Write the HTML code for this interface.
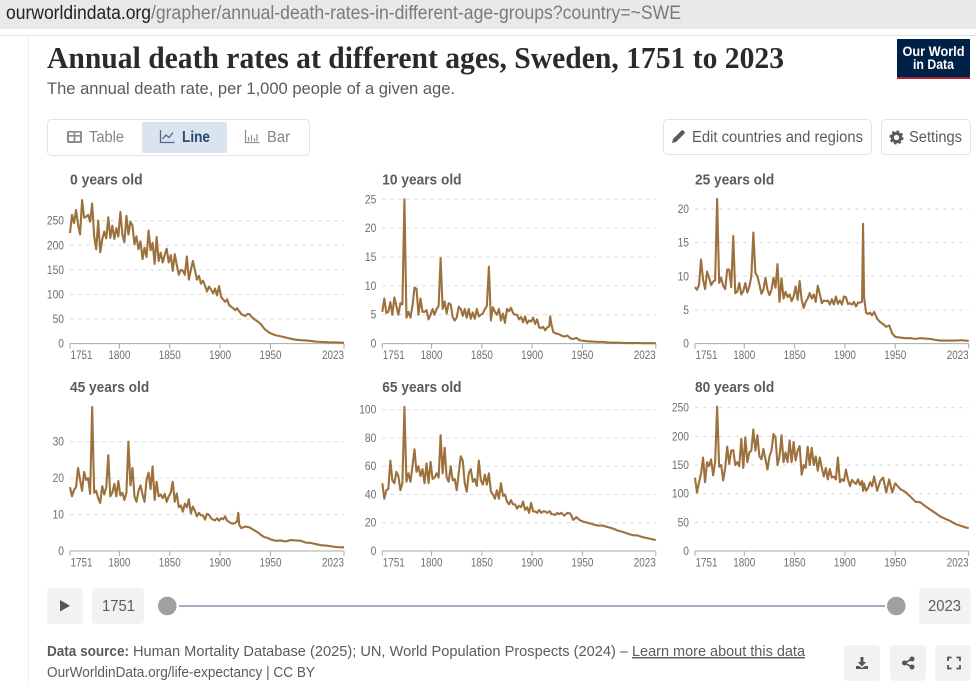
<!DOCTYPE html>
<html lang="en">
<head>
<meta charset="utf-8">
<title>Annual death rates at different ages, Sweden, 1751 to 2023</title>
<style>
html,body{margin:0;padding:0;background:#fff;width:976px;height:685px;overflow:hidden}
svg{display:block}
text{font-family:"Liberation Sans",sans-serif}
.serif{font-family:"Liberation Serif",serif;font-weight:700}
.tick{font-size:12px;fill:#6e6e6e}
.ptitle{font-size:14.5px;font-weight:700;fill:#5b5b5b}
.ui{font-size:15.5px;fill:#5b5b5b}
.foot{font-size:14.5px;fill:#5b5b5b}
</style>
</head>
<body>
<svg id="page" xmlns="http://www.w3.org/2000/svg" width="976" height="685" viewBox="0 0 976 685">
  <rect width="976" height="685" fill="#fff"/>
  <rect width="976" height="29" fill="#e9e9ec"/>
  <line x1="0" y1="35.5" x2="976" y2="35.5" stroke="#e2e2e2"/>
  <line x1="28.5" y1="36" x2="28.5" y2="685" stroke="#f0f0f0"/>
  <text x="6" y="19" font-size="19" fill="#222" textLength="145" lengthAdjust="spacingAndGlyphs">ourworldindata.org</text>
  <text x="151" y="19" font-size="19" fill="#7b7b7b" textLength="530" lengthAdjust="spacingAndGlyphs">/grapher/annual-death-rates-in-different-age-groups?country=~SWE</text>

  <text class="serif" x="47" y="68" font-size="31" fill="#2b2b2b" textLength="737" lengthAdjust="spacingAndGlyphs">Annual death rates at different ages, Sweden, 1751 to 2023</text>
  <text x="47" y="94" font-size="16.5" fill="#5b5b5b" textLength="408" lengthAdjust="spacingAndGlyphs">The annual death rate, per 1,000 people of a given age.</text>

  <g>
    <rect x="897" y="39" width="73" height="40" fill="#002147"/>
    <rect x="897" y="77" width="73" height="2" fill="#b5202c"/>
    <text x="933.5" y="56" text-anchor="middle" font-size="13.5" font-weight="700" fill="#fff" textLength="62" lengthAdjust="spacingAndGlyphs">Our World</text>
    <text x="933.5" y="69" text-anchor="middle" font-size="13.5" font-weight="700" fill="#fff" textLength="41" lengthAdjust="spacingAndGlyphs">in Data</text>
  </g>

  <g>
    <rect x="47.5" y="119.5" width="262" height="36" rx="4" fill="#fff" stroke="#e4e4e4"/>
    <g>
      <rect x="67" y="131" width="15" height="12" rx="1.5" fill="#8d8d8d"/>
      <path d="M69 135h4.600v-2.400H69zM75.400 135H80v-2.400h-4.600zM69 141h4.600v-4.400H69zM75.400 141H80v-4.400h-4.600z" fill="#fff"/>
      <text x="89" y="142" class="ui" style="fill:#858585" textLength="35" lengthAdjust="spacingAndGlyphs">Table</text>
    </g>
    <g>
      <rect x="142" y="122" width="85" height="31" rx="2" fill="#d9e4ef"/>
      <path d="M160.500 130v12.500H174.500M162.500 139l3.500-4 3 2.500 4-5" fill="none" stroke="#4c6a8c" stroke-width="1.300"/>
      <text x="182" y="142" font-size="15.500" font-weight="700" fill="#2d4a6e" textLength="28" lengthAdjust="spacingAndGlyphs">Line</text>
    </g>
    <g>
      <path d="M245.500 130v12.500H259.500M248.500 141v-4M251.500 141v-6M254.500 141v-3M257 141v-7" fill="none" stroke="#8d8d8d" stroke-width="1.200"/>
      <text x="267" y="142" class="ui" style="fill:#858585" textLength="23" lengthAdjust="spacingAndGlyphs">Bar</text>
    </g>
  </g>

  <g>
    <rect x="663.500" y="119.500" width="208" height="35" rx="4" fill="#fff" stroke="#e4e4e4"/>
    <path d="M672 143l1-4 8.500-8.500a1.200 1.200 0 0 1 1.700 0l1.300 1.300a1.200 1.200 0 0 1 0 1.700L676 142z" fill="#5b5b5b"/>
    <text x="692" y="142" class="ui" textLength="171" lengthAdjust="spacingAndGlyphs">Edit countries and regions</text>
  </g>
  <g>
    <rect x="881.500" y="119.500" width="89" height="35" rx="4" fill="#fff" stroke="#e4e4e4"/>
    <circle cx="896.500" cy="137.500" r="4.200" fill="none" stroke="#5b5b5b" stroke-width="3.200"/>
    <circle cx="896.500" cy="137.500" r="6.200" fill="none" stroke="#5b5b5b" stroke-width="1.800" stroke-dasharray="2.400 2.470"/>
    <text x="909" y="142" class="ui" textLength="53" lengthAdjust="spacingAndGlyphs">Settings</text>
  </g>

  <g id="panels"></g>

  <g>
    <g>
      <rect x="47" y="588" width="36" height="36" rx="4" fill="#f2f2f2"/>
      <path d="M60 600v11.500l10-5.750z" fill="#555"/>
    </g>
    <g>
      <rect x="92" y="588" width="52" height="36" rx="4" fill="#f2f2f2"/>
      <text x="102" y="611" class="ui" textLength="33" lengthAdjust="spacingAndGlyphs">1751</text>
    </g>
    <line x1="179" y1="606" x2="885" y2="606" stroke="#a3b0bf" stroke-width="2"/>
    <circle cx="167.300" cy="606" r="9.300" fill="#a0a0a0"/>
    <circle cx="896.300" cy="606" r="9.300" fill="#a0a0a0"/>
    <g>
      <rect x="919" y="588" width="52" height="36" rx="4" fill="#f2f2f2"/>
      <text x="928" y="611" class="ui" textLength="33" lengthAdjust="spacingAndGlyphs">2023</text>
    </g>
  </g>

  <g>
    <text x="47" y="656" class="foot" font-weight="700" textLength="82" lengthAdjust="spacingAndGlyphs">Data source:</text>
    <text x="133" y="656" class="foot" textLength="495" lengthAdjust="spacingAndGlyphs">Human Mortality Database (2025); UN, World Population Prospects (2024) –</text>
    <text x="632" y="656" class="foot" text-decoration="underline" textLength="173" lengthAdjust="spacingAndGlyphs">Learn more about this data</text>
    <text x="47" y="677" class="foot" textLength="268" lengthAdjust="spacingAndGlyphs">OurWorldinData.org/life-expectancy | CC BY</text>
  </g>

  <g>
    <rect x="844" y="645" width="36" height="36" rx="4" fill="#f2f2f2"/>
    <path d="M860.500 657h3v5h2.800l-4.300 4.500-4.300-4.500h2.800zM856 666h3l3 2 3-2h3v3h-12z" fill="#555"/>
  </g>
  <g>
    <rect x="890" y="645" width="36" height="36" rx="4" fill="#f2f2f2"/>
    <path d="M912 659l-7.500 4 7.500 4" fill="none" stroke="#555" stroke-width="1.600"/>
    <circle cx="912" cy="659" r="2.500" fill="#555"/>
    <circle cx="904.500" cy="663" r="2.500" fill="#555"/>
    <circle cx="912" cy="667" r="2.500" fill="#555"/>
  </g>
  <g>
    <rect x="935" y="645" width="36" height="36" rx="4" fill="#f2f2f2"/>
    <path d="M948 661v-3.500h3.500M956.500 657.500h3.500v3.500M960 665v3.500h-3.500M951.500 668.500H948V665" fill="none" stroke="#555" stroke-width="1.800"/>
  </g>
</svg>

<script>
// Shared sampled years for every series
const years = [
  1751,1753,1755,1757,1759,1761,1763,1765,1767,1769,1771,1773,1775,1777,1779,1781,1783,1785,1787,1789,1791,1793,1795,1797,1799,
  1801,1803,1805,1807,1809,1811,1813,1815,1817,1819,1821,1823,1825,1827,1829,1831,1833,1835,1837,1839,1841,1843,1845,1847,1849,
  1851,1853,1855,1857,1859,1861,1863,1865,1867,1869,1871,1873,1875,1877,1879,1881,1883,1885,1887,1889,1891,1893,1895,1897,1899,
  1901,1903,1905,1907,1909,1911,1913,1915,1917,1918,1919,1921,1923,1925,1927,1929,
  1932,1935,1938,1941,1944,1947,1950,
  1955,1960,1965,1970,1975,1980,1985,1990,1995,2000,2005,2010,2015,2020,2023
];
const xTicks = [1751,1800,1850,1900,1950,2023];

const age0Values = [
  225,262,245,272,242,222,292,256,258,262,248,285,218,192,250,186,212,228,214,257,215,240,213,235,218,
  268,222,206,260,222,248,240,202,218,192,208,172,195,176,230,190,205,162,217,168,185,165,180,193,165,
  180,148,182,160,140,150,148,140,177,130,150,168,150,130,138,122,128,118,106,116,110,102,112,98,117,
  95,90,85,90,78,75,72,68,72,68,66,60,58,56,60,60,
  53,48,44,38,30,25,21,
  17,15,12.5,10,8,7,6.5,5.5,4,3.5,3,2.5,2.5,2,2
];
const age10Values = [
  5.5,7.8,5.3,5.5,7.2,5,8,6.5,5,7,6.8,25,4.5,5.5,4.5,6.5,9.7,9.5,5,7.8,5.5,5.5,5.8,4.2,5,
  6,5,6,6.5,14.8,6,7.3,5.2,7,6.8,4.6,4,4.5,6.4,6,4.8,6,4.5,6,4.3,5.4,4.3,6,4.7,5,
  5.2,6,6.5,13.3,4,6.3,5.5,5,6,4,5.2,3.6,6,5.6,6.2,5.3,5,5,4.2,4.6,3.7,4.7,3.5,4,3.8,
  4.5,3.4,4.2,2.8,2.7,2.9,2.3,2.8,3,4.7,3.5,2,1.8,1.7,1.6,1.4,
  1.2,1.4,0.9,0.8,1,0.6,0.5,
  0.4,0.35,0.3,0.3,0.2,0.15,0.15,0.12,0.1,0.1,0.1,0.08,0.08,0.07,0.07
];
const age25Values = [
  8.4,8,8.7,12.5,9.5,8.1,10.7,9.8,8.7,9.2,9.4,21.5,9,9.8,8.6,8.1,11,11,8.4,16,7.5,7.7,9,7.3,7.8,
  9,7.6,8.5,10,16.5,10.5,10,8.8,7.4,8,9.8,8,7.2,8,9.8,8.3,11.8,6.2,9.7,6.7,7.7,6.9,7.3,6.3,7,
  8.5,6.5,9.3,6.5,5.3,6.2,6.7,7.5,6.7,7.3,6.2,8.6,7.4,6,6.4,6.3,6.4,5.8,6.6,5.8,7,5.9,6.4,5.8,7,
  6.9,5.9,6,5.8,6.2,5.5,6.1,6.1,6.2,17.8,7,4.6,4.4,4.6,4.2,4.7,
  3.7,3.2,2.9,2.5,2.7,1.5,1,
  0.9,0.8,0.8,0.7,0.8,0.75,0.7,0.55,0.45,0.45,0.45,0.45,0.5,0.45,0.4
];
const age45Values = [
  17.5,15,16.8,17.5,22.8,19.5,16.5,21.7,19.5,20,15.7,39.5,16,16.5,14.5,13.2,17.8,15.5,17.5,26.3,15,16,18.4,15,19.2,
  15.2,16,14,16,30,18,22.8,15,13.5,16.5,18,15.5,13.5,19.5,21.5,17,23.2,14,19,15,15.5,14.5,15.7,13.5,15,
  16,19,13.5,15.8,12,12.5,10.8,13,12,14.2,10.3,12.2,11,9.5,10.5,9.8,9.8,8.6,10.2,9.9,9,8.6,8.4,9,8.3,
  9,8.7,9.5,8.3,8,7.6,7.5,7.7,8.2,10.5,7.2,6.3,6.5,6.7,6.6,6.5,
  6,5.5,5,4.3,3.8,3.6,3.2,
  2.8,2.9,2.6,3,2.9,2.8,2.3,2.2,1.9,1.6,1.5,1.3,1.1,1,1
];
const age65Values = [
  48,37,43,44,64,50,48,56,53,43,48,102,49,55,49,60,72,56,60,53,58,48,62,48,63,
  51,52,55,52,82,55,73,52,49,60,50,51,43,55,67,64,48,42,55,58,49,51,46,64,50,
  47,54,47,55,42,40,37,43,37,48,39,40,35,33,36,33,33,30,32,31,35,29,31,27,34,
  28,28,27,29,27,28,28,27,28,28,26,26,25.5,27,26,27,
  25,27,26.5,22,24,22,21,
  20,19,18,18,17,16,14.5,13.5,12.3,11.2,11,9.8,9,8.2,7.8
];
const age80Values = [
  128,102,120,135,163,120,155,148,160,132,155,252,147,150,123,145,182,152,175,176,150,155,148,196,145,
  198,155,172,175,212,175,202,165,160,178,160,142,165,175,204,198,150,165,202,155,172,155,193,155,190,
  158,175,183,133,150,145,182,150,180,150,165,140,163,145,130,145,125,143,128,130,125,163,120,125,122,
  142,125,113,124,120,117,125,115,122,105,118,105,110,120,113,130,
  105,122,128,102,125,102,118,
  108,103,95,86,85,78,72,66,60,56,52,47,44,41,40
];

const age0Ticks = [0,50,100,150,200,250];
const age10Ticks = [0,5,10,15,20,25];
const age25Ticks = [0,5,10,15,20];
const age45Ticks = [0,10,20,30];
const age65Ticks = [0,20,40,60,80,100];
const age80Ticks = [0,50,100,150,200,250];

const SVGNS = 'http://www.w3.org/2000/svg';
const root = document.getElementById('panels');

function mk(tag, attrs, parent) {
  const el = document.createElementNS(SVGNS, tag);
  for (const k in attrs) el.setAttribute(k, attrs[k]);
  parent.appendChild(el);
  return el;
}

function drawPanel(slug, title, values, ticks, frame) {
  const xScale = y => frame.left + (y - xTicks[0]) * (frame.right - frame.left) / (xTicks[xTicks.length - 1] - xTicks[0]);
  const topTick = ticks[ticks.length - 1];
  const yScale = v => frame.base - v * (frame.base - frame.topY) / topTick;

  const g = mk('g', {}, root);
  
  

  const t = mk('text', {x: frame.left, y: frame.titleY, class: 'ptitle', textLength: title.length * 6.6, lengthAdjust: 'spacingAndGlyphs'}, g);
  
  
  t.textContent = title;

  ticks.forEach(v => {
    if (v > 0) {
      const gl = mk('line', {x1: frame.left, x2: frame.right, y1: yScale(v), y2: yScale(v), stroke: '#dcdcdc', 'stroke-dasharray': '4 4'}, g);
      
      
    }
    const s = String(v);
    const lab = mk('text', {x: frame.left - 6, y: yScale(v) + 4, class: 'tick', 'text-anchor': 'end', textLength: s.length * 5.7, lengthAdjust: 'spacingAndGlyphs'}, g);
    
    
    lab.textContent = s;
  });

  const ax = mk('line', {x1: frame.left, x2: frame.right, y1: frame.base, y2: frame.base, stroke: '#a8a8a8'}, g);
  
  

  xTicks.forEach((yr, i) => {
    const tk = mk('line', {x1: xScale(yr), x2: xScale(yr), y1: frame.base, y2: frame.base + 5, stroke: '#a8a8a8'}, g);
    
    
    const anchor = i === 0 ? 'start' : (i === xTicks.length - 1 ? 'end' : 'middle');
    const lab = mk('text', {x: xScale(yr) + (i === 0 ? 0.5 : 0), y: frame.base + 15.5, class: 'tick', 'text-anchor': anchor, textLength: 22, lengthAdjust: 'spacingAndGlyphs'}, g);
    
    
    lab.textContent = yr;
  });

  const pts = years.slice(0, values.length).map((yr, i) => xScale(yr).toFixed(2) + ',' + yScale(values[i]).toFixed(2));
  const line = mk('polyline', {points: pts.join(' '), fill: 'none', stroke: '#9c713d', 'stroke-width': 2.1, 'stroke-linejoin': 'round'}, g);
  
  
}

drawPanel('age-0', '0 years old', age0Values, age0Ticks, {left: 70, right: 344, base: 343.6, topY: 220.7, titleY: 184.5});
drawPanel('age-10', '10 years old', age10Values, age10Ticks, {left: 382.3, right: 655.8, base: 343.6, topY: 199.3, titleY: 184.5});
drawPanel('age-25', '25 years old', age25Values, age25Ticks, {left: 695, right: 968.7, base: 343.6, topY: 209, titleY: 184.5});
drawPanel('age-45', '45 years old', age45Values, age45Ticks, {left: 70, right: 344, base: 551, topY: 441.7, titleY: 392});
drawPanel('age-65', '65 years old', age65Values, age65Ticks, {left: 382.3, right: 655.8, base: 551, topY: 409.7, titleY: 392});
drawPanel('age-80', '80 years old', age80Values, age80Ticks, {left: 695, right: 968.7, base: 551, topY: 407.7, titleY: 392});
</script>
</body>
</html>
